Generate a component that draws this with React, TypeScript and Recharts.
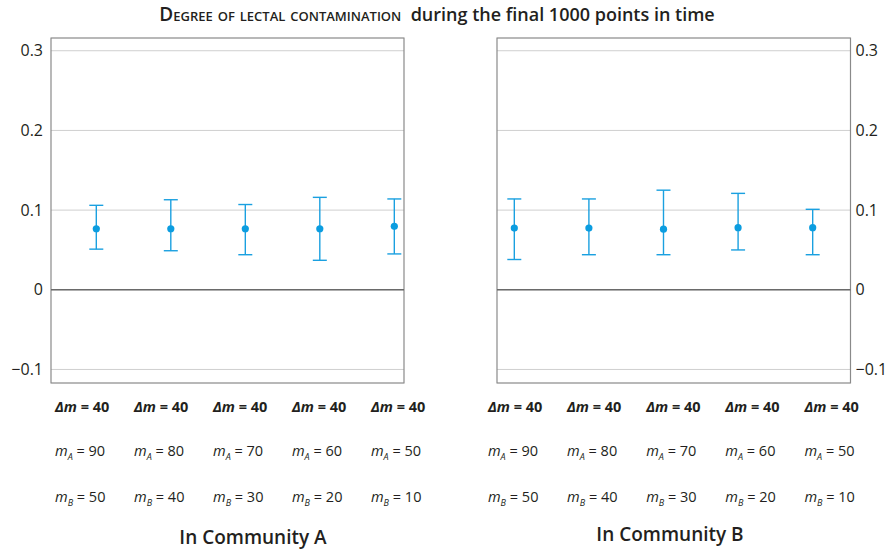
import React from "react";
import {
  ScatterChart,
  Scatter,
  XAxis,
  YAxis,
  CartesianGrid,
  ErrorBar,
  ReferenceLine,
  ReferenceArea,
} from "recharts";

// settings (x index 0..4)
const deltaM = [40, 40, 40, 40, 40];
const mA = [90, 80, 70, 60, 50];
const mB = [50, 40, 30, 20, 10];

// Community A
const meanA = [0.0766, 0.0766, 0.0766, 0.0766, 0.0796];
const upperA = [0.106, 0.113, 0.107, 0.116, 0.114];
const lowerA = [0.051, 0.049, 0.044, 0.037, 0.045];

// Community B
const meanB = [0.0775, 0.0775, 0.076, 0.078, 0.078];
const upperB = [0.114, 0.114, 0.125, 0.121, 0.101];
const lowerB = [0.038, 0.044, 0.044, 0.05, 0.044];

const yTicks = [-0.1, 0, 0.1, 0.2, 0.3];
const labelTicks = [0, 1, 2, 3, 4];

const FONT = "'Open Sans', 'Noto Sans', sans-serif";
const BLUE = "#1aa0e0";

const build = (mean: number[], lo: number[], hi: number[]) =>
  mean.map((m, i) => ({ x: i, y: m, err: [m - lo[i], hi[i] - m] }));

const fmt = (v: number) =>
  v === 0 ? "0" : v < 0 ? "\u2212" + Math.abs(v).toFixed(1) : v.toFixed(1);

const Dot = (props: any) => {
  const { cx, cy } = props;
  return <circle cx={cx} cy={cy} r={3.6} fill="#0b9de0" />;
};

const NoShape = () => <g />;

const LabelTick = (props: any) => {
  const { x, y, payload } = props;
  const i = payload.value;
  return (
    <g fontFamily={FONT} fill="#231f20" fontSize={14.5}>
      <text x={x} y={y + 29} fontWeight={700} fill="#231f20">
        <tspan fontStyle="italic">Δm</tspan>
        <tspan> = {deltaM[i]}</tspan>
      </text>
      <text x={x} y={y + 73} fill="#231f20">
        <tspan fontStyle="italic">m</tspan>
        <tspan fontStyle="italic" fontSize={9} dy={4}>A</tspan>
        <tspan dy={-4}> = {mA[i]}</tspan>
      </text>
      <text x={x} y={y + 119} fill="#231f20">
        <tspan fontStyle="italic">m</tspan>
        <tspan fontStyle="italic" fontSize={9} dy={4}>B</tspan>
        <tspan dy={-4}> = {mB[i]}</tspan>
      </text>
    </g>
  );
};

const YTick = (props: any) => {
  const { x, y, payload, textAnchor } = props;
  return (
    <text x={x} y={y} dy={5.5} textAnchor={textAnchor} fontFamily={FONT} fontSize={16} fill="#231f20">
      {fmt(payload.value)}
    </text>
  );
};

type PanelProps = {
  data: { x: number; y: number; err: number[] }[];
  side: "left" | "right";
  ptDomain: [number, number];
  labDomain: [number, number];
  left: number;
  width: number;
  margin: { top: number; right: number; bottom: number; left: number };
};

const Panel = ({ data, side, ptDomain, labDomain, left, width, margin }: PanelProps) => (
  <div style={{ position: "absolute", left, top: 0 }}>
    <ScatterChart width={width} height={549} margin={margin}>
      <XAxis xAxisId="pts" type="number" dataKey="x" domain={ptDomain} hide allowDataOverflow />
      <XAxis
        xAxisId="lab"
        type="number"
        dataKey="x"
        domain={labDomain}
        ticks={labelTicks}
        allowDataOverflow
        height={166}
        axisLine={false}
        tickLine={false}
        tickSize={0}
        tickMargin={0}
        tick={(p: any) => <LabelTick {...p} />}
        interval={0}
      />
      <YAxis
        type="number"
        dataKey="y"
        orientation={side}
        domain={[-0.117, 0.316]}
        ticks={yTicks}
        allowDataOverflow
        width={side === "left" ? 51 : 45.5}
        axisLine={false}
        tickLine={false}
        tickSize={side === "left" ? 6 : 0}
        tickMargin={side === "left" ? 2 : 5}
        tick={(p: any) => <YTick {...p} />}
      />
      <CartesianGrid xAxisId="pts" vertical={false} stroke="#cfcfcf" />
      <ReferenceLine xAxisId="pts" y={0} stroke="#6a6a6a" strokeWidth={1.5} />
      <ReferenceArea xAxisId="pts" y1={-0.117} y2={0.316} fill="none" stroke="#8a8a8a" strokeWidth={1.2} />
      <Scatter xAxisId="lab" data={data} dataKey="y" shape={<NoShape />} isAnimationActive={false} />
      <Scatter xAxisId="pts" data={data} dataKey="y" shape={<Dot />} isAnimationActive={false}>
        <ErrorBar dataKey="err" direction="y" width={7} stroke={BLUE} strokeWidth={1.4} isAnimationActive={false} />
      </Scatter>
    </ScatterChart>
  </div>
);

export default function App() {
  return (
    <div
      style={{
        position: "absolute",
        left: 0,
        top: 0,
        width: 896,
        height: 549,
        background: "#fff",
        fontFamily: FONT,
        color: "#231f20",
      }}
    >
      <div
        style={{
          position: "absolute",
          top: 1,
          left: 0,
          width: 874,
          textAlign: "center",
          fontSize: 18,
          fontWeight: 600,
          whiteSpace: "nowrap",
        }}
      >
        <span style={{ fontVariant: "small-caps", fontSize: 19 }}>Degree of lectal contamination</span>
        <span>{"\u00a0\u00a0during the final 1000 points in time"}</span>
      </div>
      <Panel
        data={build(meanA, lowerA, upperA)}
        side="left"
        ptDomain={[-0.608, 4.13]}
        labDomain={[-0.0506, 4.418]}
        left={0}
        width={430}
        margin={{ top: 38, right: 26, bottom: 0, left: 0 }}
      />
      <Panel
        data={build(meanB, lowerB, upperB)}
        side="right"
        ptDomain={[-0.232, 4.507]}
        labDomain={[0.114, 4.582]}
        left={446}
        width={450}
        margin={{ top: 38, right: 0, bottom: 0, left: 51 }}
      />
      <div style={{ position: "absolute", top: 524, left: 153, width: 200, textAlign: "center", fontSize: 19, fontWeight: 600 }}>
        In Community A
      </div>
      <div style={{ position: "absolute", top: 521, left: 570, width: 200, textAlign: "center", fontSize: 19, fontWeight: 600 }}>
        In Community B
      </div>
    </div>
  );
}
